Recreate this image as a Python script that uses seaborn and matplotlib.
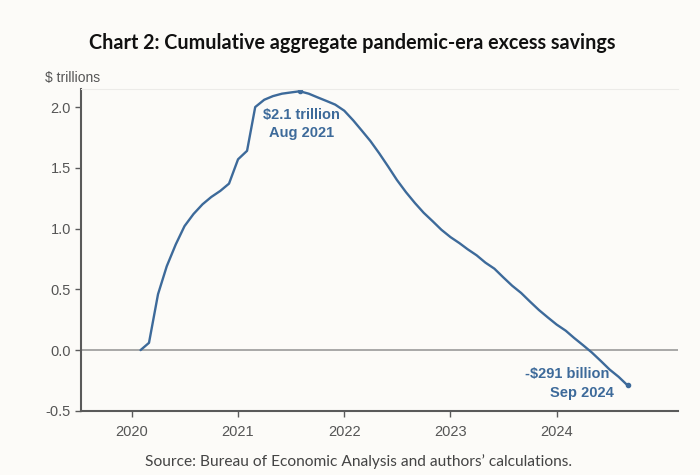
import matplotlib
matplotlib.use("Agg")
from matplotlib import pyplot as plt
import seaborn as sns
import pandas as pd

# monatliche kumulierte Überschussersparnisse, Billionen $
months = pd.date_range("2020-02-01", "2024-09-01", freq="MS")
savings = [
    0.00, 0.06, 0.46, 0.69, 0.87, 1.02, 1.12, 1.20, 1.26, 1.31, 1.37,   # 2020
    1.57, 1.64, 2.00, 2.06, 2.09, 2.11, 2.12, 2.13, 2.11, 2.08, 2.05, 2.02,  # 2021
    1.97, 1.89, 1.81, 1.72, 1.62, 1.51, 1.40, 1.30, 1.21, 1.13, 1.06, 0.99,  # 2022
    0.93, 0.88, 0.83, 0.78, 0.72, 0.67, 0.60, 0.53, 0.47, 0.40, 0.33, 0.27,  # 2023
    0.21, 0.16, 0.10, 0.04, -0.02, -0.09, -0.16, -0.22, -0.291,            # 2024
]
year_ticks = ["2020", "2021", "2022", "2023", "2024"]
y_ticks = [-0.5, 0.0, 0.5, 1.0, 1.5, 2.0]

df = pd.DataFrame({"month": months, "savings": savings})

bg = "#fcfbf8"
blue = "#3d6a9a"
grey = "#5a5a5a"

sns.set_style("white")
plt.rcParams["font.family"] = ["Liberation Sans", "DejaVu Sans"]

fig = plt.figure(figsize=(7, 4.75), dpi=100, facecolor=bg)
ax = fig.add_axes([0.116, 0.135, 0.853, 0.678])
ax.set_facecolor(bg)

sns.lineplot(data=df, x="month", y="savings", color=blue, linewidth=1.7, ax=ax)

# Peak und letzter Wert markieren
peak = df.loc[df["savings"].idxmax()]
last = df.iloc[-1]
ax.plot([peak["month"], last["month"]], [peak["savings"], last["savings"]],
        "o", color=blue, markersize=3)

lab = dict(color=blue, fontsize=10.5, fontweight="bold", textcoords="offset points")
ax.annotate("$2.1 trillion", (peak["month"], peak["savings"]), xytext=(1, -17), ha="center", va="center", **lab)
ax.annotate("Aug 2021", (peak["month"], peak["savings"]), xytext=(1, -30), ha="center", va="center", **lab)
ax.annotate("-$291 billion", (last["month"], last["savings"]), xytext=(-13, 8), ha="right", va="center", **lab)
ax.annotate("Sep 2024", (last["month"], last["savings"]), xytext=(-10, -5.5), ha="right", va="center", **lab)

ax.axhline(0, color="#9a9a9a", linewidth=1.2, zorder=0)

ax.set_xlim(pd.Timestamp("2019-07-12"), pd.Timestamp("2025-02-22"))
ax.set_ylim(-0.5, 2.15)
ax.set_xticks([pd.Timestamp(f"{y}-01-01") for y in year_ticks])
ax.set_xticklabels(year_ticks)
ax.set_yticks(y_ticks)
ax.set_yticklabels([f"{v:.1f}" for v in y_ticks])
ax.set_xlabel("")
ax.set_ylabel("")

for side in ["left", "bottom"]:
    ax.spines[side].set_color(grey)
    ax.spines[side].set_linewidth(1.5)
ax.spines["right"].set_visible(False)
ax.spines["top"].set_color("#ecebe8")
ax.spines["top"].set_linewidth(0.8)

ax.tick_params(axis="both", colors=grey, labelsize=10.5, length=4, width=1,
               direction="out", left=True, bottom=True)
for t in ax.get_xticklabels() + ax.get_yticklabels():
    t.set_color("#555555")
ax.tick_params(axis="x", pad=6)

fig.text(0.064, 0.822, "$ trillions", fontsize=10, color="#555555", ha="left", va="bottom")

fig.text(0.503, 0.909, "Chart 2: Cumulative aggregate pandemic-era excess savings",
         fontsize=14.2, fontweight="bold", ha="center", va="center",
         family=["Lato", "DejaVu Sans"], color="#111111")
fig.text(0.512, 0.029, "Source: Bureau of Economic Analysis and authors\u2019 calculations.",
         fontsize=11.2, ha="center", va="center", family=["Lato", "DejaVu Sans"], color="#444444")

fig.savefig("out.png", dpi=100, facecolor=bg)
